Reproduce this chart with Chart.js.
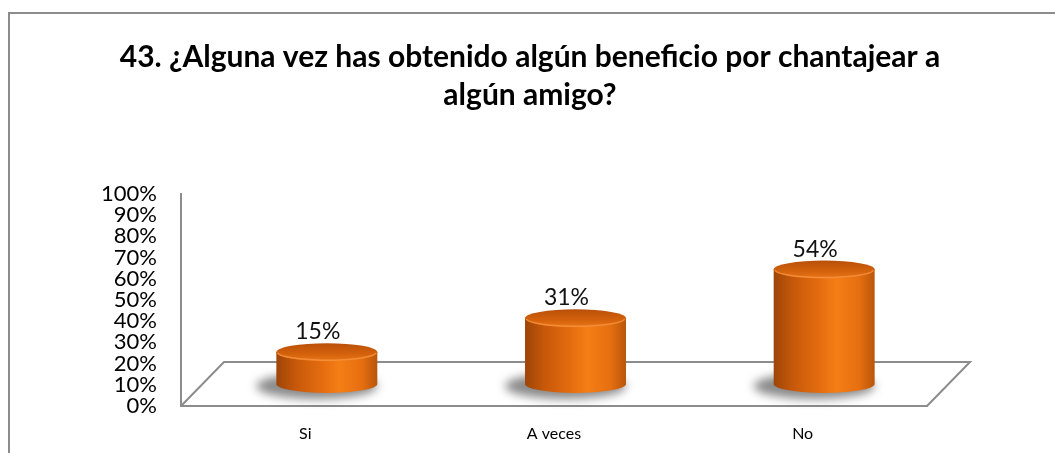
<!DOCTYPE html>
<html>
<head>
<meta charset="utf-8">
<title>Beneficio por chantajear</title>
<script src="https://cdn.jsdelivr.net/npm/chart.js@4.4.1/dist/chart.umd.min.js"></script>
<style>
    html, body { margin: 0; padding: 0; background: #fff; }
    #contenedor { width: 1055px; height: 453px; }
</style>
</head>
<body>
<div id="contenedor"><canvas id="myChart" width="1055" height="453"></canvas></div>
<script>
const titulo = ["43. ¿Alguna vez has obtenido algún beneficio por chantajear a", "algún amigo?"];
const categorias = ["Si", "A veces", "No"];
const porcentajes = [15, 31, 54];
const etiquetasY = ["0%", "10%", "20%", "30%", "40%", "50%", "60%", "70%", "80%", "90%", "100%"];

// desplazamiento de profundidad del piso (efecto 3D)
const PISO_X = 43, PISO_Y = -44;
const GRIS = '#8c8c8c';

const ctx = document.getElementById('myChart').getContext('2d');

const cilindros = {
    id: 'cilindros',
    beforeDraw(chart) {
        const c = chart.ctx;
        c.save();
        // marco del grafico
        c.strokeStyle = GRIS;
        c.lineWidth = 2;
        c.beginPath();
        c.moveTo(9, chart.height + 10);
        c.lineTo(9, 13);
        c.lineTo(chart.width + 10, 13);
        c.stroke();
        // titulo
        c.fillStyle = '#000';
        c.font = 'bold 30px Lato';
        c.textAlign = 'center';
        c.textBaseline = 'middle';
        c.fillText(titulo[0], 530, 57);
        c.fillText(titulo[1], 530, 95);
        c.restore();
    },
    beforeDatasetsDraw(chart) {
        const { ctx: c, chartArea: a, scales: { y } } = chart;
        const y0 = y.getPixelForValue(0);
        c.save();
        c.strokeStyle = GRIS;
        c.lineWidth = 2;
        c.beginPath();
        c.moveTo(a.left, y0);
        c.lineTo(a.left + PISO_X, y0 + PISO_Y);
        c.lineTo(a.right + PISO_X, y0 + PISO_Y);
        c.lineTo(a.right, y0);
        c.stroke();
        c.restore();
    },
    afterDatasetsDraw(chart) {
        const { ctx: c, scales: { y } } = chart;
        const meta = chart.getDatasetMeta(0);
        const dx = PISO_X / 2, dy = PISO_Y / 2;
        const base = y.getPixelForValue(0) + dy;
        meta.data.forEach((bar, i) => {
            const cx = bar.x + dx;
            const top = bar.y + dy;
            const rx = bar.width / 2;
            const ry = 9;

            // sombra
            c.save();
            c.filter = 'blur(5px)';
            c.fillStyle = 'rgba(60,60,60,0.6)';
            c.beginPath();
            c.ellipse(cx - 10, base + 2, rx + 10, ry + 4, 0, 0, Math.PI * 2);
            c.fill();
            c.restore();

            // cuerpo
            c.save();
            const g = c.createLinearGradient(cx - rx, 0, cx + rx, 0);
            g.addColorStop(0, '#9e4507');
            g.addColorStop(0.2, '#c8590a');
            g.addColorStop(0.45, '#e46c0f');
            g.addColorStop(0.62, '#f67e16');
            g.addColorStop(0.85, '#e56e10');
            g.addColorStop(1, '#b9560a');
            c.fillStyle = g;
            c.beginPath();
            c.moveTo(cx - rx, top);
            c.lineTo(cx - rx, base);
            c.ellipse(cx, base, rx, ry, 0, Math.PI, 0, true);
            c.lineTo(cx + rx, top);
            c.closePath();
            c.fill();

            // tapa
            const gt = c.createLinearGradient(0, top - ry, 0, top + ry);
            gt.addColorStop(0, '#b84f08');
            gt.addColorStop(0.6, '#d4620c');
            gt.addColorStop(1, '#ea7617');
            c.fillStyle = gt;
            c.beginPath();
            c.ellipse(cx, top, rx, ry, 0, 0, Math.PI * 2);
            c.fill();
            c.strokeStyle = 'rgba(255,160,80,0.6)';
            c.lineWidth = 1.5;
            c.beginPath();
            c.ellipse(cx, top, rx - 1, ry - 1, 0, 0.1, Math.PI - 0.1);
            c.stroke();
            c.restore();

            // etiqueta de valor
            c.save();
            c.fillStyle = '#111';
            c.font = '23px Lato';
            c.textAlign = 'center';
            c.textBaseline = 'alphabetic';
            c.fillText(porcentajes[i] + '%', cx - 9, top - ry - 4);
            c.restore();
        });
    }
};

const myChart = new Chart(ctx, {
    type: 'bar',
    data: {
        labels: categorias,
        datasets: [{
            label: 'Porcentaje',
            data: porcentajes,
            backgroundColor: 'rgba(0,0,0,0)',
            borderWidth: 0,
            barPercentage: 0.406,
            categoryPercentage: 1
        }]
    },
    options: {
        responsive: false,
        animation: false,
        devicePixelRatio: 1,
        layout: { padding: { top: 194, right: 128, left: 0, bottom: 0 } },
        plugins: {
            legend: { display: false },
            tooltip: { enabled: false },
            title: { display: false }
        },
        scales: {
            x: {
                grid: { display: false, drawTicks: false },
                border: { display: true, color: GRIS, width: 2 },
                ticks: { color: '#000', padding: 18, font: { family: 'Lato', size: 16 } },
                afterFit(scale) { scale.height = 47; }
            },
            y: {
                min: 0,
                max: 100,
                grid: { display: false, drawTicks: false },
                border: { display: true, color: GRIS, width: 2 },
                ticks: {
                    stepSize: 10,
                    autoSkip: false,
                    color: '#000',
                    padding: 24,
                    font: { family: 'Lato', size: 22, lineHeight: 1 },
                    callback: (v, i) => etiquetasY[i]
                },
                afterFit(scale) { scale.width = 181; }
            }
        }
    },
    plugins: [cilindros]
});
</script>
</body>
</html>
